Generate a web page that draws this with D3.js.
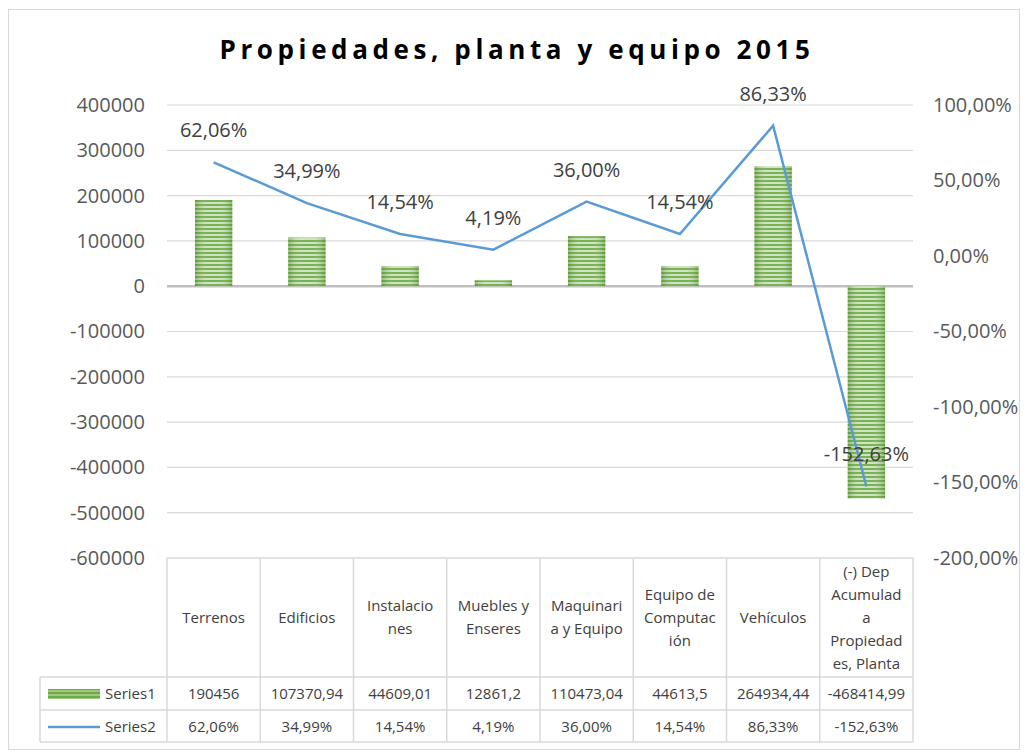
<!DOCTYPE html>
<html>
<head>
<meta charset="utf-8">
<script src="https://cdn.jsdelivr.net/npm/d3@7.9.0/dist/d3.min.js"></script>
<style>
  body { margin: 0; background: #fff; }
  svg text { font-family: "Open Sans", "Noto Sans", sans-serif; }
</style>
</head>
<body>
<div id="chart"></div>
<script>
// data
const categories = ['Terrenos', 'Edificios', 'Instalaciones', 'Muebles y Enseres',
  'Maquinaria y Equipo', 'Equipo de Computación', 'Vehículos',
  '(-) Dep Acumulada Propiedades, Planta'];
// header text as it wraps in the table
const headerLines = [
  ['Terrenos'], ['Edificios'], ['Instalacio', 'nes'], ['Muebles y', 'Enseres'],
  ['Maquinari', 'a y Equipo'], ['Equipo de', 'Computac', 'ión'], ['Vehículos'],
  ['(-) Dep', 'Acumulad', 'a', 'Propiedad', 'es, Planta']
];
const series1 = [190456, 107370.94, 44609.01, 12861.2, 110473.04, 44613.5, 264934.44, -468414.99];
const series2 = [62.06, 34.99, 14.54, 4.19, 36.00, 14.54, 86.33, -152.63];
const seriesNames = ['Series1', 'Series2'];
const leftTicks = [-600000, -500000, -400000, -300000, -200000, -100000, 0, 100000, 200000, 300000, 400000];
const rightTicks = [-200, -150, -100, -50, 0, 50, 100];

const width = 1027, height = 756;
const plotLeft = 167, plotRight = 913, plotTop = 105, plotBottom = 558;

const svg = d3.select('#chart').append('svg')
  .attr('width', width).attr('height', height);

// chart frame
svg.append('rect')
  .attr('x', 8.5).attr('y', 9.5).attr('width', 1011).attr('height', 740)
  .attr('fill', '#fff').attr('stroke', '#d9d9d9');

// striped green fill for bars
const defs = svg.append('defs');
const pat = defs.append('pattern').attr('id', 'stripes')
  .attr('patternUnits', 'userSpaceOnUse').attr('width', 8).attr('height', 4);
pat.append('rect').attr('width', 8).attr('height', 4).attr('fill', '#c9e2b8');
pat.append('rect').attr('width', 8).attr('height', 2).attr('fill', '#6aa842');
const grad = defs.append('linearGradient').attr('id', 'shade')
  .attr('x1', '0%').attr('x2', '100%').attr('y1', '0%').attr('y2', '0%');
grad.append('stop').attr('offset', '0%').attr('stop-color', '#4e8a2c').attr('stop-opacity', 0.45);
grad.append('stop').attr('offset', '35%').attr('stop-color', '#ffffff').attr('stop-opacity', 0.1);
grad.append('stop').attr('offset', '65%').attr('stop-color', '#ffffff').attr('stop-opacity', 0.1);
grad.append('stop').attr('offset', '100%').attr('stop-color', '#4e8a2c').attr('stop-opacity', 0.45);

// scales
const x = d3.scaleBand().domain(categories).range([plotLeft, plotRight]).padding(0);
const yL = d3.scaleLinear().domain([-600000, 400000]).range([plotBottom, plotTop]);
const yR = d3.scaleLinear().domain([-200, 100]).range([plotBottom, plotTop]);

const loc = d3.formatLocale({ decimal: ',', thousands: '.', grouping: [3], currency: ['', ''], minus: '-' });
const fmtPct = (v) => loc.format('.2f')(v) + '%';
const fmtInt = loc.format('d');
const fmtNum = (v) => String(v).replace('.', ',');

// title
svg.append('text')
  .attr('x', 517).attr('y', 59)
  .attr('text-anchor', 'middle')
  .style('font-size', '26px').style('font-weight', 'bold')
  .style('letter-spacing', '4.6px')
  .attr('fill', '#000')
  .text('Propiedades, planta y equipo 2015');

// gridlines
svg.append('g').selectAll('line')
  .data(leftTicks.filter(d => d !== -600000))
  .join('line')
  .attr('x1', plotLeft).attr('x2', plotRight)
  .attr('y1', d => yL(d)).attr('y2', d => yL(d))
  .attr('stroke', d => d === 0 ? '#bfbfbf' : '#d9d9d9')
  .attr('stroke-width', d => d === 0 ? 2.5 : 1.2);

// axes
const axL = svg.append('g').attr('transform', `translate(${plotLeft},0)`)
  .call(d3.axisLeft(yL).tickValues(leftTicks).tickSize(0).tickPadding(22).tickFormat(fmtInt));
const axR = svg.append('g').attr('transform', `translate(${plotRight},0)`)
  .call(d3.axisRight(yR).tickValues(rightTicks).tickSize(0).tickPadding(20).tickFormat(fmtPct));
[axL, axR].forEach(ax => {
  ax.select('.domain').remove();
  ax.selectAll('text').style('font-size', '20px').attr('fill', '#595959')
    .style('font-family', '"Open Sans", sans-serif');
});

// bars
const barW = x.bandwidth() * 0.4;
const bars = svg.append('g');
bars.selectAll('rect.b')
  .data(series1)
  .join('rect').attr('class', 'b')
  .attr('x', (d, i) => x(categories[i]) + (x.bandwidth() - barW) / 2)
  .attr('y', d => yL(Math.max(0, d)))
  .attr('width', barW)
  .attr('height', d => Math.abs(yL(d) - yL(0)))
  .attr('fill', 'url(#stripes)');
bars.selectAll('rect.s')
  .data(series1)
  .join('rect').attr('class', 's')
  .attr('x', (d, i) => x(categories[i]) + (x.bandwidth() - barW) / 2)
  .attr('y', d => yL(Math.max(0, d)))
  .attr('width', barW)
  .attr('height', d => Math.abs(yL(d) - yL(0)))
  .attr('fill', 'url(#shade)');

// line
const line = d3.line()
  .x((d, i) => x(categories[i]) + x.bandwidth() / 2)
  .y(d => yR(d));
svg.append('path')
  .datum(series2)
  .attr('d', line)
  .attr('fill', 'none')
  .attr('stroke', '#5b9bd5')
  .attr('stroke-width', 2.5);

// line labels
svg.append('g').selectAll('text')
  .data(series2)
  .join('text')
  .attr('x', (d, i) => x(categories[i]) + x.bandwidth() / 2)
  .attr('y', d => yR(d) - 25)
  .attr('text-anchor', 'middle')
  .style('font-size', '20px')
  .attr('fill', '#404040')
  .text(d => fmtPct(d));

// data table
const tbl = svg.append('g');
const headTop = plotBottom, row1 = 677, row2 = 710, tblBottom = 742, legLeft = 40;
const gridColor = '#d9d9d9';
const boundaries = categories.map(c => x(c)).concat([plotRight]);
tbl.selectAll('line.v')
  .data(boundaries)
  .join('line').attr('class', 'v')
  .attr('x1', d => d).attr('x2', d => d)
  .attr('y1', headTop).attr('y2', tblBottom)
  .attr('stroke', gridColor).attr('stroke-width', 1.5);
tbl.append('line').attr('x1', legLeft).attr('x2', legLeft).attr('y1', row1).attr('y2', tblBottom)
  .attr('stroke', gridColor).attr('stroke-width', 1.5);
[[plotLeft, headTop], [legLeft, row1], [legLeft, row2], [legLeft, tblBottom]].forEach(([x0, yy]) => {
  tbl.append('line').attr('x1', x0).attr('x2', plotRight).attr('y1', yy).attr('y2', yy)
    .attr('stroke', gridColor).attr('stroke-width', 1.5);
});

// header labels
const lh = 23;
tbl.selectAll('text.h')
  .data(headerLines)
  .join('text').attr('class', 'h')
  .attr('text-anchor', 'middle')
  .style('font-size', '15px').attr('fill', '#404040')
  .each(function(lines, i) {
    const cx = x(categories[i]) + x.bandwidth() / 2;
    const cy = (headTop + row1) / 2 - (lines.length - 1) * lh / 2 + 5;
    d3.select(this).selectAll('tspan').data(lines).join('tspan')
      .attr('x', cx).attr('y', (l, j) => cy + j * lh).text(l => l);
  });

// value rows
const rows = [
  { vals: series1.map(fmtNum), top: row1 },
  { vals: series2.map(fmtPct), top: row2 }
];
rows.forEach(r => {
  tbl.append('g').selectAll('text')
    .data(r.vals)
    .join('text')
    .attr('x', (d, i) => x(categories[i]) + x.bandwidth() / 2)
    .attr('y', r.top + 22)
    .attr('text-anchor', 'middle')
    .style('font-size', '15px').attr('fill', '#404040')
    .text(d => d);
});

// legend keys in the table
tbl.append('rect').attr('x', 48).attr('y', 689).attr('width', 52).attr('height', 10)
  .attr('fill', 'url(#stripes)');
tbl.append('rect').attr('x', 48).attr('y', 689).attr('width', 52).attr('height', 10)
  .attr('fill', '#70ad47').attr('opacity', 0.5);
tbl.append('line').attr('x1', 48).attr('x2', 100).attr('y1', 727).attr('y2', 727)
  .attr('stroke', '#5b9bd5').attr('stroke-width', 2.5);
tbl.selectAll('text.l')
  .data(seriesNames)
  .join('text').attr('class', 'l')
  .attr('x', 105)
  .attr('y', (d, i) => [row1, row2][i] + 22)
  .style('font-size', '15px').attr('fill', '#404040')
  .text(d => d);
</script>
</body>
</html>
